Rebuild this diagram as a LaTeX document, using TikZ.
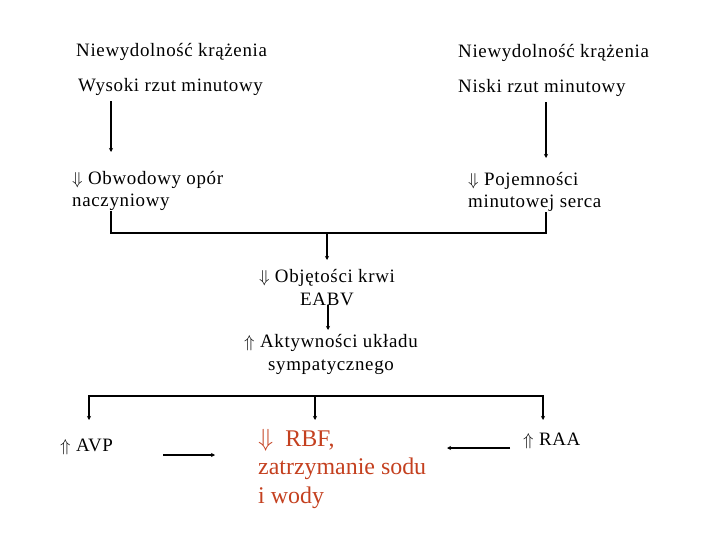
\documentclass[tikz,border=0pt]{standalone}
\usepackage{fontspec}
\setmainfont{Liberation Serif}[LetterSpace=3.5]
\newfontfamily\redfont{Liberation Serif}
\usepackage{xcolor}
\usetikzlibrary{arrows.meta,positioning}
\definecolor{rbfred}{HTML}{C4401F}
\tikzset{
  txt/.style={font=\fontsize{19}{22.5}\selectfont, inner sep=0pt, align=left},
  redtxt/.style={font=\redfont\fontsize{24}{28.5}\selectfont, text=rbfred, inner sep=0pt, align=left},
  link/.style={line width=2bp, -{Stealth[length=4pt,width=4pt]}},
  bar/.style={line width=2.2bp},
}
\begin{document}
\begin{tikzpicture}[x=1bp,y=-1bp]
\useasboundingbox (0,0) rectangle (720,540);

% top labels
\node[txt, anchor=base west] (nw1) at (76,57) {Niewydolność krążenia};
\node[txt, anchor=base west] (nw2) at (458,58) {Niewydolność krążenia};
\node[txt, anchor=base west] (wys) at (78,92) {Wysoki rzut minutowy};
\node[txt, anchor=base west] (nis) at (458,93) {Niski rzut minutowy};

% second level (base = last line)
\node[txt, anchor=base west] (obw) at (72,207) {$\Downarrow$ Obwodowy opór\\naczyniowy};
\node[txt, anchor=base west] (poj) at (468,208) {$\Downarrow$ Pojemności\\minutowej serca};

% middle
\node[txt, align=center, anchor=base] (obj) at (327,305) {$\Downarrow$ Objętości krwi\\EABV};
\node[txt, align=center, anchor=base] (akt) at (331,370) {$\Uparrow$ Aktywności układu\\sympatycznego};

% bottom
\node[txt, anchor=base west] (avp) at (60,451) {$\Uparrow$ AVP};
\node[redtxt, anchor=base west] (rbf) at (258,503) {$\Downarrow$\ \ RBF,\\zatrzymanie sodu\\i wody};
\node[txt, anchor=base west] (raa) at (523,445) {$\Uparrow$ RAA};

% connector points
\coordinate (wysend) at (111,152);
\coordinate (nisend) at (546,158);
\coordinate (barL) at (111,233);
\coordinate (barR) at (546,233);
\coordinate (barM) at (327,233);
\coordinate (objtop) at (327,260);
\coordinate (aktend) at (328,330);
\coordinate (splitM) at (315,396);
\coordinate (avptop) at (89,420);
\coordinate (rbftop) at (315,420);
\coordinate (raatop) at (543,420);
\coordinate (avpleft) at (163,455);
\coordinate (avpright) at (215,455);
\coordinate (raaright) at (510,448);
\coordinate (raaleft) at (447,448);

% first level arrows
\draw[link] ([yshift=-5bp]wys.south -| wysend) -- (wysend);
\draw[link] ([yshift=-5bp]nis.south -| nisend) -- (nisend);

% joining bar
\draw[bar] (obw.south -| barL) -- (barL) -- (barR) -- (poj.south -| barR);
\draw[link] (barM) -- (objtop);
\draw[link] (obj.south -| aktend) -- (aktend);

% splitting bar
\draw[link] (splitM) -| (avptop);
\draw[link] (splitM) -- (rbftop);
\draw[link] (splitM) -| (raatop);

% side arrows
\draw[link] (avpleft) -- (avpright);
\draw[link] (raaright) -- (raaleft);

\end{tikzpicture}
\end{document}
